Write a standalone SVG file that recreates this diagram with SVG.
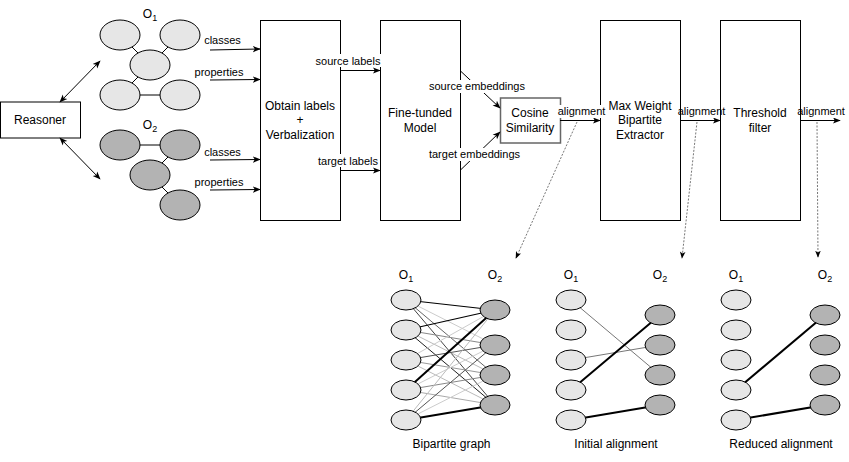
<svg xmlns="http://www.w3.org/2000/svg" width="849" height="462" viewBox="0 0 849 462">
<style>
text{font-family:"Liberation Sans",Arial,Helvetica,sans-serif;fill:#000;text-anchor:middle}
.b{font-size:12px}
.s{font-size:11px}
.box{fill:#fff;stroke:#000;stroke-width:1}
.o1{fill:#e6e6e6;stroke:#000;stroke-width:1}
.o2{fill:#b3b3b3;stroke:#000;stroke-width:1}
.ln{stroke:#000;stroke-width:1;fill:none}
.ar{stroke:#000;stroke-width:1;fill:none;marker-end:url(#arr)}
.dot{stroke:#777;stroke-width:1;fill:none;stroke-dasharray:2 1.5;marker-end:url(#arrs)}
.bg{fill:#fff}
.e{fill:none}
</style>
<defs>
<marker id="arr" viewBox="0 0 10 10" refX="9" refY="5" markerWidth="8" markerHeight="8" markerUnits="userSpaceOnUse" orient="auto-start-reverse">
<path d="M0,1 L10,5 L0,9 L2.5,5 z" fill="#000"/>
</marker>
<marker id="arrs" viewBox="0 0 10 10" refX="9" refY="5" markerWidth="7" markerHeight="7" markerUnits="userSpaceOnUse" orient="auto">
<path d="M0,1 L10,5 L0,9 L2.5,5 z" fill="#000"/>
</marker>
</defs>
<rect width="849" height="462" fill="#fff"/>

<!-- ontology graph O1 -->
<g id="ontology-o1">
<line class="ln" x1="120" y1="35" x2="150" y2="65"/>
<line class="ln" x1="180" y1="35" x2="150" y2="65"/>
<line class="ln" x1="150" y1="65" x2="120" y2="95"/>
<line class="ln" x1="120" y1="95" x2="180" y2="95"/>
<ellipse class="o1" cx="120" cy="35" rx="20" ry="15"/>
<ellipse class="o1" cx="180" cy="35" rx="20" ry="15"/>
<ellipse class="o1" cx="150" cy="65" rx="20" ry="15"/>
<ellipse class="o1" cx="120" cy="95" rx="20" ry="15"/>
<ellipse class="o1" cx="180" cy="95" rx="20" ry="15"/>
<text class="b" x="150" y="18">O<tspan font-size="9" dy="3">1</tspan></text>
</g>

<!-- ontology graph O2 -->
<g id="ontology-o2">
<line class="ln" x1="120" y1="145" x2="180" y2="145"/>
<line class="ln" x1="180" y1="145" x2="150" y2="175"/>
<line class="ln" x1="150" y1="175" x2="180" y2="205"/>
<ellipse class="o2" cx="120" cy="145" rx="20" ry="15"/>
<ellipse class="o2" cx="180" cy="145" rx="20" ry="15"/>
<ellipse class="o2" cx="150" cy="175" rx="20" ry="15"/>
<ellipse class="o2" cx="180" cy="205" rx="20" ry="15"/>
<text class="b" x="150" y="129">O<tspan font-size="9" dy="3">2</tspan></text>
</g>

<g id="reasoner">
<rect class="box" x="0.5" y="102" width="80" height="36"/>
<text class="b" x="40" y="124">Reasoner</text>
</g>

<g id="obtain-labels">
<rect class="box" x="260.5" y="20.5" width="80" height="200"/>
<text class="b" x="300" y="110">Obtain labels</text>
<text class="b" x="300" y="124">+</text>
<text class="b" x="300" y="139">Verbalization</text>
</g>

<g id="fine-tuned-model">
<rect class="box" x="380.5" y="20.5" width="80" height="200"/>
<text class="b" x="420" y="117">Fine-tunded</text>
<text class="b" x="420" y="132">Model</text>
</g>

<g id="cosine-similarity">
<rect x="500.5" y="98" width="60" height="45" fill="#fff" stroke="#666" stroke-width="1.5"/>
<text class="b" x="530" y="117">Cosine</text>
<text class="b" x="530" y="132">Similarity</text>
</g>

<g id="max-weight-extractor">
<rect class="box" x="600.5" y="20.5" width="80" height="200"/>
<text class="b" x="640" y="110">Max Weight</text>
<text class="b" x="640" y="124">Bipartite</text>
<text class="b" x="640" y="139">Extractor</text>
</g>

<g id="threshold-filter">
<rect class="box" x="720.5" y="20.5" width="80" height="200"/>
<text class="b" x="760" y="117">Threshold</text>
<text class="b" x="760" y="132">filter</text>
</g>

<!-- connectors -->
<g id="connectors">
<line class="ar" x1="60" y1="102" x2="100" y2="61" marker-start="url(#arr)"/>
<line class="ar" x1="60" y1="138" x2="100" y2="179" marker-start="url(#arr)"/>
<line class="ar" x1="210" y1="50" x2="260" y2="49" stroke="#333"/>
<line class="ar" x1="210" y1="80" x2="260" y2="79.5"/>
<line class="ar" x1="210" y1="160" x2="260" y2="159.5"/>
<line class="ar" x1="210" y1="190" x2="260" y2="189.5"/>
<text class="s" x="222.5" y="44">classes</text>
<text class="s" x="219" y="76">properties</text>
<text class="s" x="222.5" y="156">classes</text>
<text class="s" x="219" y="186">properties</text>

<line class="ar" x1="340" y1="70.5" x2="380" y2="70.5"/>
<line class="ar" x1="340" y1="170.5" x2="380" y2="170.5"/>
<rect class="bg" x="315" y="54" width="66" height="13"/>
<text class="s" x="348" y="64.5">source labels</text>
<rect class="bg" x="318" y="154" width="60" height="13"/>
<text class="s" x="348" y="164.5">target labels</text>

<line class="ar" x1="460.5" y1="71" x2="500" y2="108"/>
<line class="ar" x1="460.5" y1="170" x2="500" y2="132"/>
<rect class="bg" x="429" y="80" width="96" height="13"/>
<text class="s" x="477" y="90">source embeddings</text>
<rect class="bg" x="429" y="148" width="91" height="13"/>
<text class="s" x="474.5" y="158">target embeddings</text>

<line class="ar" x1="560" y1="120.5" x2="600" y2="120.5"/>
<line class="ar" x1="680" y1="120.5" x2="720" y2="120.5"/>
<line class="ar" x1="800" y1="120.5" x2="840" y2="120.5"/>
<rect class="bg" x="559" y="105" width="44" height="13"/>
<text class="s" x="581.5" y="115">alignment</text>
<rect class="bg" x="681" y="105" width="38" height="13"/>
<text class="s" x="701.5" y="115">alignment</text>
<rect class="bg" x="801" y="105" width="42" height="13"/>
<text class="s" x="821" y="115">alignment</text>

<line class="dot" x1="577" y1="122" x2="516" y2="258"/>
<line class="dot" x1="697" y1="122" x2="682" y2="258"/>
<line class="dot" x1="817" y1="122" x2="818" y2="257"/>
</g>

<!-- bipartite graph -->
<g id="bipartite-graph">
<g stroke-width="1">
<line x1="406" y1="300" x2="495" y2="345" stroke="#ccc"/>
<line x1="406" y1="300" x2="495" y2="375" stroke="#666"/>
<line x1="406" y1="300" x2="495" y2="405" stroke="#444"/>
<line x1="406" y1="330" x2="495" y2="345" stroke="#888"/>
<line x1="406" y1="330" x2="495" y2="375" stroke="#bbb"/>
<line x1="406" y1="330" x2="495" y2="405" stroke="#222"/>
<line x1="406" y1="360" x2="495" y2="310" stroke="#ccc"/>
<line x1="406" y1="360" x2="495" y2="345" stroke="#555"/>
<line x1="406" y1="360" x2="495" y2="375" stroke="#999"/>
<line x1="406" y1="360" x2="495" y2="405" stroke="#bbb"/>
<line x1="406" y1="390" x2="495" y2="345" stroke="#ccc"/>
<line x1="406" y1="390" x2="495" y2="375" stroke="#888"/>
<line x1="406" y1="390" x2="495" y2="405" stroke="#aaa"/>
<line x1="406" y1="420" x2="495" y2="310" stroke="#bbb"/>
<line x1="406" y1="420" x2="495" y2="345" stroke="#555"/>
<line x1="406" y1="420" x2="495" y2="375" stroke="#ccc"/>
<line x1="406" y1="300" x2="495" y2="310" stroke="#000" stroke-width="1.2"/>
<line x1="406" y1="330" x2="495" y2="310" stroke="#000" stroke-width="1.2"/>
<line x1="406" y1="390" x2="495" y2="310" stroke="#000" stroke-width="2"/>
<line x1="406" y1="420" x2="495" y2="405" stroke="#000" stroke-width="2"/>
</g>
<ellipse class="o1" cx="406" cy="300" rx="15" ry="10"/>
<ellipse class="o1" cx="406" cy="330" rx="15" ry="10"/>
<ellipse class="o1" cx="406" cy="360" rx="15" ry="10"/>
<ellipse class="o1" cx="406" cy="390" rx="15" ry="10"/>
<ellipse class="o1" cx="406" cy="420" rx="15" ry="10"/>
<ellipse class="o2" cx="495" cy="310" rx="15" ry="10"/>
<ellipse class="o2" cx="495" cy="345" rx="15" ry="10"/>
<ellipse class="o2" cx="495" cy="375" rx="15" ry="10"/>
<ellipse class="o2" cx="495" cy="405" rx="15" ry="10"/>
<text class="b" x="406" y="279">O<tspan font-size="9" dy="3">1</tspan></text>
<text class="b" x="495" y="279">O<tspan font-size="9" dy="3">2</tspan></text>
<text class="b" x="451.5" y="448">Bipartite graph</text>
</g>

<g id="initial-alignment">
<line x1="571" y1="300" x2="660" y2="375" stroke="#777" stroke-width="1"/>
<line x1="571" y1="360" x2="660" y2="345" stroke="#777" stroke-width="1"/>
<line x1="571" y1="390" x2="660" y2="315" stroke="#000" stroke-width="2"/>
<line x1="571" y1="420" x2="660" y2="405" stroke="#000" stroke-width="2"/>
<ellipse class="o1" cx="571" cy="300" rx="15" ry="10"/>
<ellipse class="o1" cx="571" cy="330" rx="15" ry="10"/>
<ellipse class="o1" cx="571" cy="360" rx="15" ry="10"/>
<ellipse class="o1" cx="571" cy="390" rx="15" ry="10"/>
<ellipse class="o1" cx="571" cy="420" rx="15" ry="10"/>
<ellipse class="o2" cx="660" cy="315" rx="15" ry="10"/>
<ellipse class="o2" cx="660" cy="345" rx="15" ry="10"/>
<ellipse class="o2" cx="660" cy="375" rx="15" ry="10"/>
<ellipse class="o2" cx="660" cy="405" rx="15" ry="10"/>
<text class="b" x="571" y="279">O<tspan font-size="9" dy="3">1</tspan></text>
<text class="b" x="660" y="279">O<tspan font-size="9" dy="3">2</tspan></text>
<text class="b" x="616" y="448">Initial alignment</text>
</g>

<g id="reduced-alignment">
<line x1="736" y1="390" x2="825" y2="315" stroke="#000" stroke-width="2"/>
<line x1="736" y1="420" x2="825" y2="405" stroke="#000" stroke-width="2"/>
<ellipse class="o1" cx="736" cy="300" rx="15" ry="10"/>
<ellipse class="o1" cx="736" cy="330" rx="15" ry="10"/>
<ellipse class="o1" cx="736" cy="360" rx="15" ry="10"/>
<ellipse class="o1" cx="736" cy="390" rx="15" ry="10"/>
<ellipse class="o1" cx="736" cy="420" rx="15" ry="10"/>
<ellipse class="o2" cx="825" cy="315" rx="15" ry="10"/>
<ellipse class="o2" cx="825" cy="345" rx="15" ry="10"/>
<ellipse class="o2" cx="825" cy="375" rx="15" ry="10"/>
<ellipse class="o2" cx="825" cy="405" rx="15" ry="10"/>
<text class="b" x="736" y="279">O<tspan font-size="9" dy="3">1</tspan></text>
<text class="b" x="825" y="279">O<tspan font-size="9" dy="3">2</tspan></text>
<text class="b" x="781" y="448">Reduced alignment</text>
</g>
</svg>
